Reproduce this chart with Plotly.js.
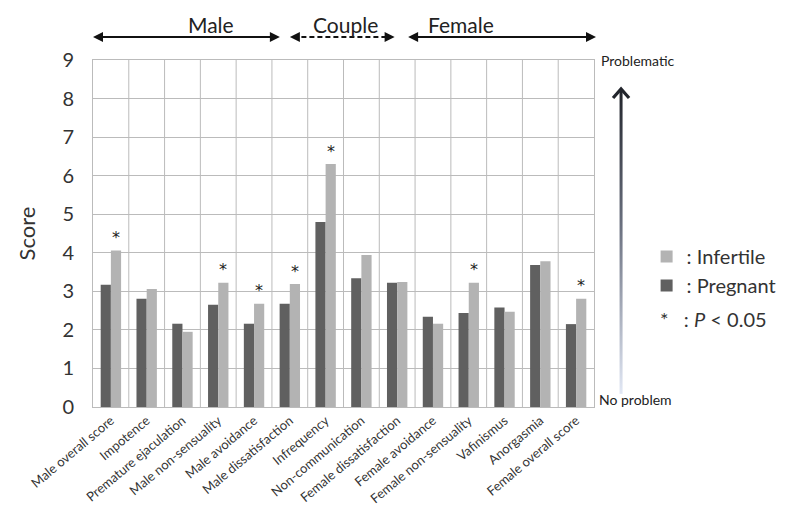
<!DOCTYPE html>
<html>
<head>
<meta charset="utf-8">
<script src="https://cdn.plot.ly/plotly-3.0.1.min.js"></script>
<style>html,body{margin:0;padding:0;background:#fff;}#chart{width:802px;height:523px;}</style>
</head>
<body>
<div id="chart"></div>
<script>
const categories = ["Male overall score","Impotence","Premature ejaculation","Male non-sensuality","Male avoidance","Male dissatisfaction","Infrequency","Non-communication","Female dissatisfaction","Female avoidance","Female non-sensuality","Vafinismus","Anorgasmia","Female overall score"];
const pregnant  = [3.17, 2.81, 2.16, 2.65, 2.16, 2.68, 4.80, 3.34, 3.22, 2.34, 2.44, 2.58, 3.68, 2.15];
const infertile = [4.06, 3.06, 1.95, 3.22, 2.68, 3.19, 6.30, 3.94, 3.24, 2.16, 3.22, 2.47, 3.78, 2.81];
const significant = [true, false, false, true, true, true, true, false, false, false, true, false, false, true];
const yTicks = [0,1,2,3,4,5,6,7,8,9];

const FONT = "Lato, 'Open Sans', sans-serif";
const DARK = "#606060", LIGHT = "#b3b3b3";

const data = [
  {type:"bar", name:": Pregnant", x:categories, y:pregnant, marker:{color:DARK}, legendrank:2},
  {type:"bar", name:": Infertile", x:categories, y:infertile, marker:{color:LIGHT}, legendrank:1}
];

const annotations = [];
categories.forEach((c,i)=>{
  if(significant[i]) annotations.push({x:c, y:infertile[i], xref:"x", yref:"y", text:"*", showarrow:false,
    xshift:5, yshift:13, font:{family:"DejaVu Sans", size:16, color:"#222"}});
});
// header labels
[["Male",0.186],["Couple",0.503],["Female",0.804]].forEach(([t,x])=>{
  annotations.push({xref:"paper", yref:"paper", x:x, y:1.101, yanchor:"middle", text:t, showarrow:false, font:{family:FONT, size:21, color:"#222"}});
});
const AY = 1.066;
function dbl(x0,x1,y){
  annotations.push({xref:"paper", yref:"paper", axref:"paper", ayref:"paper", x:x1, y:y, ax:x0, ay:y, text:"", showarrow:true,
    arrowhead:2, startarrowhead:2, arrowside:"end+start", arrowwidth:2, arrowsize:1, startarrowsize:1, arrowcolor:"#111"});
}
dbl(-0.003, 0.373, AY);
dbl(0.626, 1.004, AY);
annotations.push({xref:"paper", yref:"paper", axref:"paper", ayref:"paper", x:0.602, y:AY, ax:0.585, ay:AY, text:"", showarrow:true,
  arrowhead:2, arrowwidth:2, arrowcolor:"#111"});
annotations.push({xref:"paper", yref:"paper", axref:"paper", ayref:"paper", x:0.393, y:AY, ax:0.41, ay:AY, text:"", showarrow:true,
  arrowhead:2, arrowwidth:2, arrowcolor:"#111"});
// right side labels
annotations.push({xref:"paper", yref:"paper", x:1.01, y:1.0, xanchor:"left", yanchor:"middle", text:"Problematic", showarrow:false, font:{family:FONT, size:14, color:"#222"}});
annotations.push({xref:"paper", yref:"paper", x:1.005, y:0.022, xanchor:"left", yanchor:"middle", text:"No problem", showarrow:false, font:{family:FONT, size:14, color:"#222"}});
annotations.push({xref:"paper", yref:"paper", x:1.128, y:0.254, xanchor:"left", yanchor:"middle", text:"*&nbsp;&nbsp;&nbsp;: <i>P</i> < 0.05", showarrow:false, font:{family:FONT, size:20, color:"#333"}});

const svg = '<svg xmlns="http://www.w3.org/2000/svg" width="20" height="310" viewBox="0 0 20 310">'+
 '<defs><linearGradient id="g" x1="0" y1="0" x2="0" y2="1"><stop offset="0" stop-color="#22252c"/><stop offset="0.45" stop-color="#6b7180"/><stop offset="1" stop-color="#e2e8f5"/></linearGradient></defs>'+
 '<rect x="8.5" y="3" width="3" height="305" fill="url(#g)"/>'+
 '<polyline points="2,12 10,3 18,12" fill="none" stroke="#22252c" stroke-width="3.2" stroke-linejoin="miter"/></svg>';

const layout = {
  width:802, height:523,
  margin:{l:93, r:208, t:60, b:116},
  paper_bgcolor:"#fff", plot_bgcolor:"#fff",
  barmode:"group", bargap:0.43, bargroupgap:0,
  font:{family:FONT, color:"#333"},
  showlegend:true,
  legend:{x:1.105, y:0.49, xanchor:"left", yanchor:"top", font:{family:FONT, size:20, color:"#333"}, traceorder:"normal", tracegroupgap:0, itemwidth:30, bgcolor:"rgba(0,0,0,0)"},
  xaxis:{type:"category", tickangle:-40, tickfont:{family:FONT, size:13, color:"#333"}, showgrid:false,
    showline:true, mirror:true, linecolor:"#bbb", linewidth:1, ticks:"", automargin:false},
  yaxis:{range:[0,9], tickvals:yTicks, ticktext:yTicks.map(String), tickfont:{family:FONT, size:20, color:"#333"},
    showgrid:true, gridcolor:"#bbb", gridwidth:1, zeroline:false, showline:true, mirror:true, linecolor:"#bbb",
    ticks:"", ticklabelstandoff:14, automargin:false,
    title:{text:"Score", font:{family:FONT, size:22, color:"#333"}, standoff:20}},
  shapes:[
    {type:"line", xref:"paper", yref:"paper", x0:0.40, x1:0.596, y0:AY, y1:AY, line:{color:"#111", width:2, dash:"5px,3px"}}
  ].concat(categories.slice(0,-1).map((c,i)=>({type:"line", xref:"x", yref:"paper", x0:i+0.5, x1:i+0.5, y0:0, y1:1, line:{color:"#bbb", width:1}, layer:"below"}))),
  images:[{source:"data:image/svg+xml;utf8,"+encodeURIComponent(svg), xref:"paper", yref:"paper", x:1.034, y:0.925, sizex:0.04, sizey:0.893, sizing:"stretch", xanchor:"left", yanchor:"top", layer:"above"}],
  annotations:annotations
};
Plotly.newPlot("chart", data, layout, {staticPlot:true, displayModeBar:false});
</script>
</body>
</html>
